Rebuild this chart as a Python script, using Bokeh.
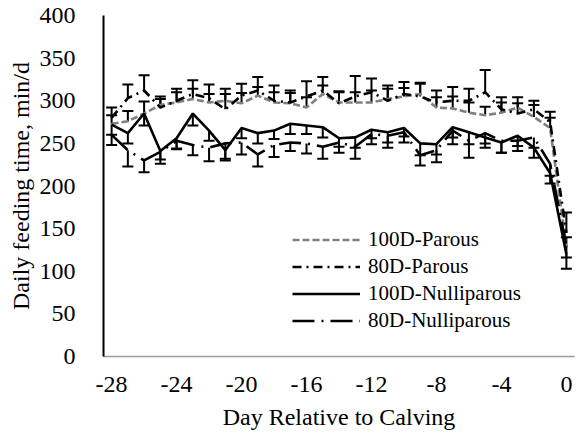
from bokeh.plotting import figure
from bokeh.models import (ColumnDataSource, Range1d, FixedTicker, Legend, LegendItem,
                          Whisker, TeeHead, CustomJSTickFormatter)
from bokeh.embed import file_html
from bokeh.resources import INLINE
import numpy as np

days = list(range(-28, 1))
x_ticks = [-28, -24, -20, -16, -12, -8, -4, 0]
y_ticks = [0, 50, 100, 150, 200, 250, 300, 350, 400]

p100 = [273, 276, 285, 295, 298, 302, 298, 300, 297, 306, 298, 297, 292, 308, 298,
        298, 298, 302, 305, 308, 292, 291, 286, 283, 286, 292, 281, 268, 128]
p100_se = [10, 12, 14, 10, 12, 12, 10, 14, 12, 10, 12, 12, 12, 10, 12,
           12, 14, 12, 10, 12, 12, 14, 12, 10, 12, 12, 14, 12, 12]
p80 = [280, 303, 312, 292, 300, 308, 303, 290, 306, 312, 300, 298, 305, 312, 297,
       305, 310, 300, 308, 305, 298, 300, 300, 310, 290, 285, 290, 275, 145]
p80_se = [12, 16, 18, 10, 14, 16, 16, 18, 14, 16, 18, 14, 18, 16, 14,
          24, 16, 18, 14, 16, 14, 16, 14, 26, 14, 12, 10, 12, 24]
n100 = [272, 262, 285, 241, 256, 285, 265, 242, 268, 262, 265, 273, 271, 269, 256,
        257, 266, 263, 268, 250, 249, 269, 263, 257, 251, 259, 245, 215, 120]
n100_se = [12, 12, 14, 10, 12, 14, 12, 10, 12, 12, 10, 12, 10, 12, 10,
           12, 10, 12, 10, 14, 12, 12, 14, 12, 12, 12, 12, 12, 17]
n80 = [260, 242, 230, 240, 253, 248, 245, 250, 251, 237, 248, 251, 250, 246, 251,
       246, 261, 259, 263, 236, 242, 265, 253, 262, 253, 253, 257, 226, 130]
n80_se = [12, 19, 14, 14, 10, 12, 16, 20, 14, 14, 14, 10, 12, 14, 12,
          14, 12, 14, 12, 12, 14, 16, 20, 12, 14, 12, 12, 14, 14]

names = ["100D-Parous", "80D-Parous", "100D-Nulliparous", "80D-Nulliparous"]

FONT = "Liberation Serif"

p = figure(width=576, height=434, output_backend="svg", toolbar_location=None,
           x_range=Range1d(-28.5, 0.5), y_range=Range1d(0, 400),
           min_border_left=103, min_border_right=2, min_border_top=15, min_border_bottom=78)
p.outline_line_color = None
p.xgrid.visible = False
p.ygrid.visible = False
p.background_fill_color = "white"
p.border_fill_color = "white"

specs = [
    (p100, p100_se, "#7f7f7f", "7 3", True),
    (p80, p80_se, "black", "9 5 2 5", True),
    (n100, n100_se, "black", "solid", False),
    (n80, n80_se, "black", "22 7 2 7", False),
]

renderers = []
for vals, se, col, dash, up in specs:
    v = np.array(vals, dtype=float)
    s = np.array(se, dtype=float)
    src = ColumnDataSource(dict(x=days, y=v,
                                upper=v + s if up else v,
                                lower=v if up else v - s))
    r = p.line("x", "y", source=src, line_color=col, line_width=2.6, line_dash=dash)
    renderers.append(r)
    if up:
        w = Whisker(source=src, base="x", upper="upper", lower="lower",
                    upper_head=TeeHead(size=11, line_width=2, line_color="black"),
                    lower_head=None, line_color="black", line_width=2)
    else:
        w = Whisker(source=src, base="x", upper="upper", lower="lower",
                    lower_head=TeeHead(size=11, line_width=2, line_color="black"),
                    upper_head=None, line_color="black", line_width=2)
    p.add_layout(w)

# axes
p.xaxis.ticker = FixedTicker(ticks=x_ticks)
p.yaxis.ticker = FixedTicker(ticks=y_ticks)
p.xaxis.formatter = CustomJSTickFormatter(code="return String(tick);")
p.xaxis.axis_label = "Day Relative to Calving"
p.yaxis.axis_label = "Daily feeding time, min/d"
p.axis.major_tick_line_color = None
p.axis.minor_tick_line_color = None
p.axis.major_label_text_font = FONT
p.axis.major_label_text_font_size = "24px"
p.axis.major_label_text_color = "black"
p.axis.axis_label_text_font = FONT
p.axis.axis_label_text_font_size = "24px"
p.axis.axis_label_text_font_style = "normal"
p.axis.axis_label_text_color = "black"
p.xaxis.axis_line_color = "#9a9a9a"
p.xaxis.axis_line_width = 1.5
p.yaxis.axis_line_color = "black"
p.yaxis.axis_line_width = 2
p.xaxis.major_label_standoff = 14
p.xaxis.axis_label_standoff = 9
p.yaxis.major_label_standoff = 22
p.yaxis.axis_label_standoff = 3

legend = Legend(items=[LegendItem(label=n, renderers=[r]) for n, r in zip(names, renderers)],
                location=(189, 22), orientation="vertical")
legend.border_line_color = None
legend.background_fill_alpha = 0
legend.padding = 0
legend.margin = 0
legend.spacing = 0
legend.glyph_width = 68
legend.glyph_height = 27
legend.label_height = 27
legend.label_standoff = 8
legend.label_text_font = FONT
legend.label_text_font_size = "21px"
legend.label_text_color = "black"
p.add_layout(legend, "center")

open("out.html", "w").write(file_html(p, INLINE))
